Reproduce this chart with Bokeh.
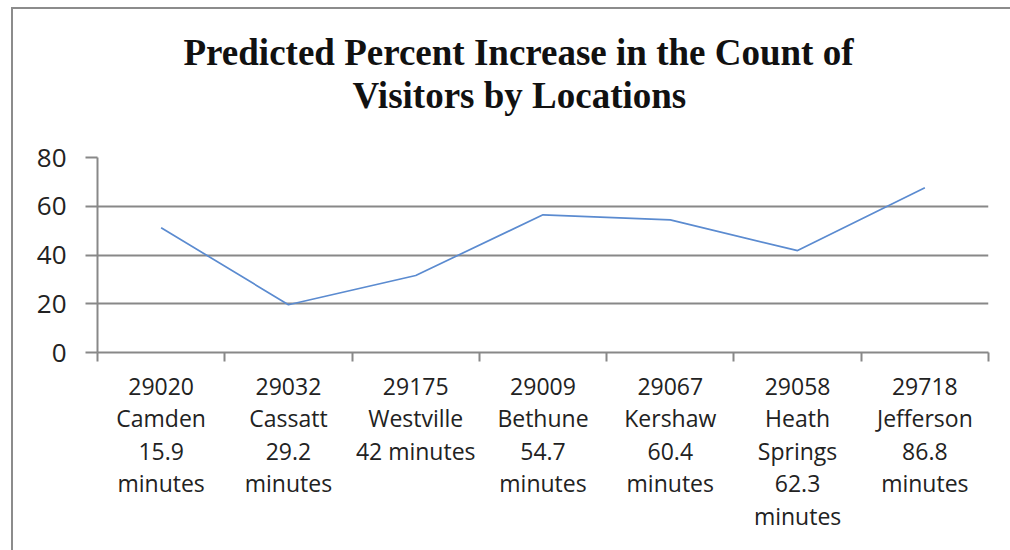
from bokeh.plotting import figure
from bokeh.models import Range1d, FixedTicker, Title, ColumnDataSource
from bokeh.layouts import column
from bokeh.embed import file_html
from bokeh.resources import INLINE

# Locations, ordered by drive time
zip_codes = ["29020", "29032", "29175", "29009", "29067", "29058", "29718"]
tick_labels = [
    "29020\nCamden\n15.9\nminutes",
    "29032\nCassatt\n29.2\nminutes",
    "29175\nWestville\n42 minutes",
    "29009\nBethune\n54.7\nminutes",
    "29067\nKershaw\n60.4\nminutes",
    "29058\nHeath\nSprings\n62.3\nminutes",
    "29718\nJefferson\n86.8\nminutes",
]
pct_increase = [51.2, 19.6, 31.6, 56.5, 54.4, 41.8, 67.6]
y_ticks = [0, 20, 40, 60, 80]

GRID = "#888888"
TITLE_FONT = dict(text_font="Liberation Serif", text_font_size="37px",
                  text_font_style="bold", text_color="#111111")
centers = [i + 0.5 for i in range(len(zip_codes))]
source = ColumnDataSource(data=dict(x=centers, y=pct_increase, zip=zip_codes))

p = figure(
    width=997, height=541,
    x_range=Range1d(0, len(zip_codes)), y_range=Range1d(0, 80),
    output_backend="svg", toolbar_location=None,
    min_border_left=84, min_border_right=22,
    min_border_top=148, min_border_bottom=198,
)
p.outline_line_color = None
p.background_fill_color = "white"
p.border_fill_color = "white"

# title block: a blank spacer row next to the plot, then the two title lines
p.add_layout(Title(text=" ", standoff=0, text_font="Liberation Serif",
                   text_font_size="36px"), "above")
p.add_layout(Title(text="Visitors by Locations", align="left", offset=255,
                   standoff=0, **TITLE_FONT), "above")
p.add_layout(Title(text="Predicted Percent Increase in the Count of", align="left",
                   offset=86, standoff=0, **TITLE_FONT), "above")

p.line("x", "y", source=source, line_color="#5b8bd0", line_width=1.7)

# y axis
p.yaxis.ticker = FixedTicker(ticks=y_ticks)
p.yaxis.axis_line_color = GRID
p.yaxis.axis_line_width = 2
p.yaxis.major_tick_line_color = GRID
p.yaxis.major_tick_line_width = 2
p.yaxis.major_tick_out = 12
p.yaxis.major_tick_in = 0
p.yaxis.minor_tick_line_color = None
p.yaxis.major_label_standoff = 19
p.yaxis.major_label_text_font = "Open Sans"
p.yaxis.major_label_text_font_size = "26px"
p.yaxis.major_label_text_color = "#222222"
p.ygrid.grid_line_color = GRID
p.ygrid.grid_line_width = 2

# x axis: labels at category centres, ticks on category boundaries
p.xaxis.ticker = FixedTicker(ticks=centers, minor_ticks=list(range(len(zip_codes) + 1)))
p.xaxis.major_label_overrides = {c: t for c, t in zip(centers, tick_labels)}
p.xaxis.axis_line_color = GRID
p.xaxis.axis_line_width = 2
p.xaxis.major_tick_line_color = None
p.xaxis.minor_tick_line_color = GRID
p.xaxis.minor_tick_line_width = 2
p.xaxis.minor_tick_out = 9
p.xaxis.minor_tick_in = 0
p.xaxis.major_label_standoff = 8
p.xaxis.major_label_text_font = "Open Sans"
p.xaxis.major_label_text_font_size = "23px"
p.xaxis.major_label_text_color = "#222222"
p.xaxis.major_label_text_line_height = 1.02
p.xgrid.grid_line_color = None

layout = column(p, styles={"margin-left": "11px", "margin-top": "7px",
                           "border-left": "2px solid #8c8c8c",
                           "border-top": "2px solid #8c8c8c"})

open("out.html", "w").write(file_html(layout, INLINE))
